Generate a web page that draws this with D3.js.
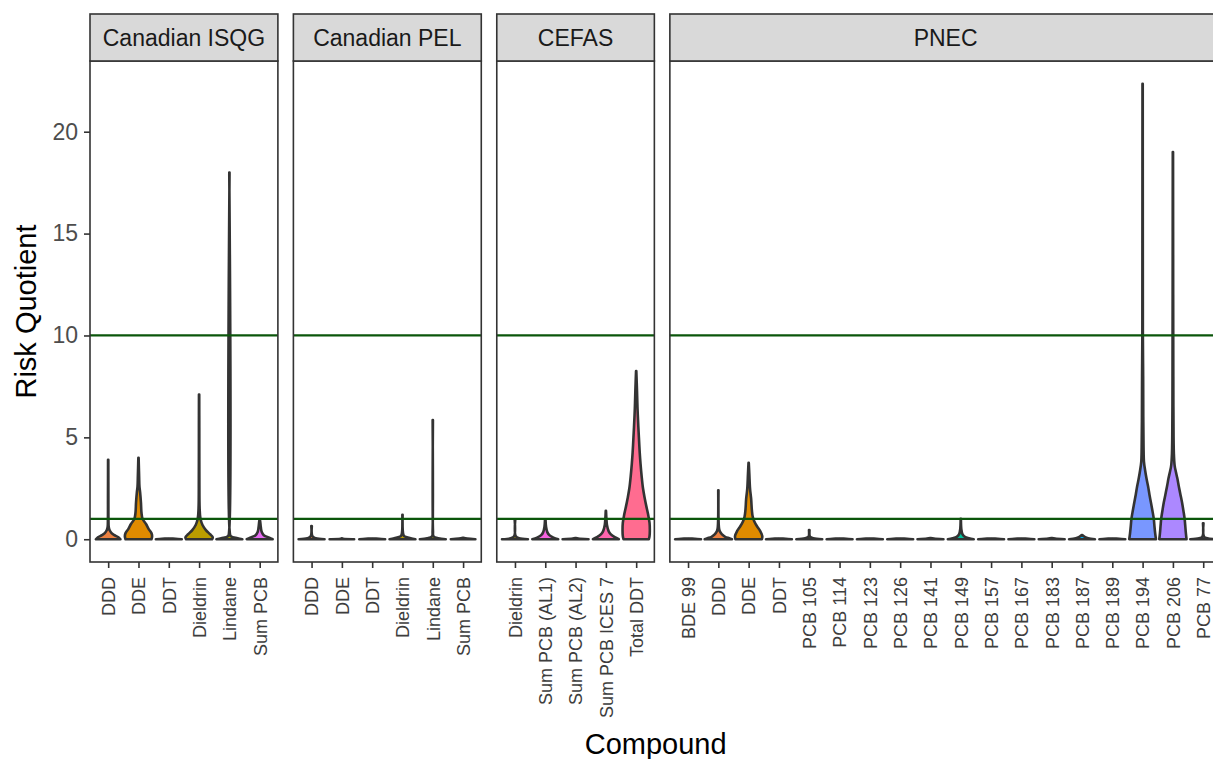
<!DOCTYPE html>
<html>
<head>
<meta charset="utf-8">
<script src="https://cdn.jsdelivr.net/npm/d3@7"></script>
<style>
  body { margin: 0; background: #ffffff; }
  svg text { font-family: "Liberation Sans", Arial, sans-serif; }
</style>
</head>
<body>
<div id="chart"></div>
<script>
// facets and the compounds shown in each one
var facets = ["Canadian ISQG", "Canadian PEL", "CEFAS", "PNEC"];
var isqgCompounds = ["DDD", "DDE", "DDT", "Dieldrin", "Lindane", "Sum PCB"];
var pelCompounds = ["DDD", "DDE", "DDT", "Dieldrin", "Lindane", "Sum PCB"];
var cefasCompounds = ["Dieldrin", "Sum PCB (AL1)", "Sum PCB (AL2)", "Sum PCB ICES 7", "Total DDT"];
var pnecCompounds = ["BDE 99", "DDD", "DDE", "DDT", "PCB 105", "PCB 114", "PCB 123", "PCB 126",
  "PCB 141", "PCB 149", "PCB 157", "PCB 167", "PCB 183", "PCB 187", "PCB 189", "PCB 194", "PCB 206", "PCB 77"];

// violin outlines: [risk quotient, relative half width]
var flat = [[0, 0.95], [0.02, 0.5], [0.04, 0]];
var isqgViolins = [
  [[0, 0.9], [0.1, 0.75], [0.2, 0.45], [0.3, 0.25], [0.45, 0.1], [0.6, 0.04], [1, 0.02], [2, 0.015], [3.9, 0.01]],
  [[0, 0.95], [0.15, 1], [0.3, 0.95], [0.5, 0.75], [0.75, 0.55], [1.0, 0.3], [1.3, 0.22], [1.8, 0.18], [2.3, 0.12], [2.6, 0.07], [3, 0.05], [3.5, 0.03], [4.0, 0.01]],
  flat,
  [[0, 0.95], [0.1, 1], [0.25, 0.8], [0.45, 0.5], [0.7, 0.25], [1.0, 0.1], [1.5, 0.04], [3, 0.02], [5.5, 0.015], [7.1, 0.01]],
  [[0, 0.95], [0.05, 0.6], [0.15, 0.1], [0.4, 0.02], [18.0, 0.01]],
  [[0, 0.95], [0.08, 0.7], [0.2, 0.3], [0.35, 0.15], [0.6, 0.08], [0.9, 0.03], [0.95, 0.01]]
];
var pelViolins = [
  [[0, 0.95], [0.05, 0.3], [0.15, 0.06], [0.65, 0.02]],
  [[0, 0.9], [0.02, 0.1], [0.05, 0.01]],
  flat,
  [[0, 0.95], [0.05, 0.6], [0.15, 0.12], [0.3, 0.04], [1.2, 0.01]],
  [[0, 0.95], [0.05, 0.4], [0.15, 0.05], [0.4, 0.015], [5.85, 0.01]],
  [[0, 0.9], [0.03, 0.3], [0.07, 0.01]]
];
var cefasViolins = [
  [[0, 0.95], [0.05, 0.3], [0.15, 0.06], [0.95, 0.02]],
  [[0, 0.95], [0.08, 0.6], [0.2, 0.3], [0.35, 0.15], [0.6, 0.06], [0.95, 0.02]],
  [[0, 0.95], [0.03, 0.2], [0.06, 0.01]],
  [[0, 0.95], [0.1, 0.65], [0.25, 0.35], [0.4, 0.2], [0.7, 0.08], [1.0, 0.04], [1.4, 0.01]],
  [[0, 0.93], [0.15, 0.98], [0.4, 1], [0.8, 0.98], [1.2, 0.88], [1.6, 0.75], [2, 0.63], [2.5, 0.5], [3.1, 0.4], [3.7, 0.32], [4.25, 0.26], [5, 0.2], [5.5, 0.16], [6.4, 0.1], [7.3, 0.06], [8.25, 0.01]]
];
var pnecViolins = [
  flat,
  [[0, 1], [0.05, 0.8], [0.12, 0.5], [0.25, 0.25], [0.4, 0.1], [0.6, 0.04], [2.4, 0.01]],
  [[0, 0.97], [0.15, 1], [0.4, 0.85], [0.65, 0.6], [0.9, 0.4], [1.1, 0.3], [1.4, 0.24], [2.0, 0.18], [2.5, 0.1], [3.2, 0.05], [3.75, 0.01]],
  flat,
  [[0, 0.95], [0.05, 0.3], [0.12, 0.06], [0.45, 0.02]],
  flat,
  flat,
  flat,
  [[0, 0.95], [0.03, 0.25], [0.06, 0.01]],
  [[0, 0.95], [0.05, 0.6], [0.12, 0.3], [0.25, 0.12], [0.5, 0.04], [1.0, 0.01]],
  flat,
  flat,
  [[0, 0.95], [0.03, 0.25], [0.06, 0.01]],
  [[0, 0.95], [0.05, 0.45], [0.12, 0.2], [0.2, 0.02]],
  flat,
  [[0, 0.98], [0.3, 0.92], [0.7, 0.86], [1.0, 0.82], [1.4, 0.72], [1.8, 0.61], [2.2, 0.5], [2.6, 0.4], [3.0, 0.28], [3.4, 0.18], [3.8, 0.1], [4.5, 0.07], [6, 0.05], [8, 0.04], [10, 0.02], [15, 0.015], [22.35, 0.01]],
  [[0, 1], [0.3, 0.95], [0.7, 0.9], [1.0, 0.86], [1.4, 0.77], [1.8, 0.67], [2.2, 0.55], [2.6, 0.43], [3.0, 0.32], [3.3, 0.22], [3.6, 0.13], [4.2, 0.07], [6, 0.04], [8, 0.03], [12, 0.02], [19, 0.01]],
  [[0, 0.95], [0.05, 0.3], [0.12, 0.06], [0.78, 0.02]]
];

var yTicks = [0, 5, 10, 15, 20];
var refLines = [1, 10];

var panels = [
  {name: facets[0], cats: isqgCompounds, violins: isqgViolins},
  {name: facets[1], cats: pelCompounds, violins: pelViolins},
  {name: facets[2], cats: cefasCompounds, violins: cefasViolins},
  {name: facets[3], cats: pnecCompounds, violins: pnecViolins}
];

// R style hcl() colour (polar CIE-Luv), as ggplot's hue palette uses
function hclLuv(h, c, l) {
  var rad = h * Math.PI / 180;
  var U = c * Math.cos(rad), V = c * Math.sin(rad);
  var Y = l > 8 ? Math.pow((l + 16) / 116, 3) : l / 903.3;
  var Xn = 0.95047, Yn = 1, Zn = 1.08883;
  var un = 4 * Xn / (Xn + 15 * Yn + 3 * Zn), vn = 9 * Yn / (Xn + 15 * Yn + 3 * Zn);
  var u = U / (13 * l) + un, v = V / (13 * l) + vn;
  var X = 9 * Y * u / (4 * v);
  var Z = -X / 3 - 5 * Y + 3 * Y / v;
  var lin = [
    3.240479 * X - 1.537150 * Y - 0.498535 * Z,
    -0.969256 * X + 1.875992 * Y + 0.041556 * Z,
    0.055648 * X - 0.204043 * Y + 1.057311 * Z
  ];
  var rgb = lin.map(function(t) {
    var s = t <= 0.0031308 ? 12.92 * t : 1.055 * Math.pow(t, 1 / 2.4) - 0.055;
    return Math.round(255 * Math.max(0, Math.min(1, s)));
  });
  return d3.rgb(rgb[0], rgb[1], rgb[2]).formatHex();
}

// one hue per compound
var allCompounds = Array.from(new Set([].concat(isqgCompounds, pelCompounds, cefasCompounds, pnecCompounds))).sort();
var color = d3.scaleOrdinal()
  .domain(allCompounds)
  .range(allCompounds.map(function(d, i) {
    return hclLuv(15 + i * 360 / allCompounds.length, 100, 65);
  }));

var width = 1213, height = 759;
var plotLeft = 90, plotRight = 1221.4, plotTop = 61, plotBottom = 562, stripH = 47, gap = 15.5;

var svg = d3.select("#chart").append("svg")
  .attr("width", width).attr("height", height);

var y = d3.scaleLinear().domain([-1.117, 23.47]).range([plotBottom, plotTop]);

var units = d3.sum(panels, function(p) { return p.cats.length + 0.2; });
var unitW = (plotRight - plotLeft - gap * (panels.length - 1)) / units;

var x0 = plotLeft;
panels.forEach(function(p, pi) {
  var w = (p.cats.length + 0.2) * unitW;
  var x = d3.scalePoint().domain(p.cats).range([x0, x0 + w]).padding(0.6);
  var halfMax = x.step() * 0.45;

  var g = svg.append("g");

  g.append("rect")
    .attr("x", x0).attr("y", plotTop).attr("width", w).attr("height", plotBottom - plotTop)
    .attr("fill", "#ffffff");

  var area = d3.area()
    .curve(d3.curveCatmullRom.alpha(0.5))
    .y(function(d) { return y(d[0]); });

  p.cats.forEach(function(c, ci) {
    var cx = x(c);
    area.x0(function(d) { return cx - d[1] * halfMax; })
        .x1(function(d) { return cx + d[1] * halfMax; });
    g.append("path")
      .attr("d", area(p.violins[ci]))
      .attr("fill", color(c))
      .attr("stroke", "#333333")
      .attr("stroke-width", 2.6)
      .attr("stroke-linejoin", "round");
  });

  refLines.forEach(function(v) {
    g.append("line")
      .attr("x1", x0).attr("x2", x0 + w)
      .attr("y1", y(v)).attr("y2", y(v))
      .attr("stroke", "#0b560b").attr("stroke-width", 2.2);
  });

  g.append("rect")
    .attr("x", x0).attr("y", plotTop).attr("width", w).attr("height", plotBottom - plotTop)
    .attr("fill", "none").attr("stroke", "#333333").attr("stroke-width", 1.6);

  // strip
  g.append("rect")
    .attr("x", x0).attr("y", plotTop - stripH).attr("width", w).attr("height", stripH)
    .attr("fill", "#d9d9d9").attr("stroke", "#333333").attr("stroke-width", 1.6);
  g.append("text")
    .attr("x", x0 + w / 2).attr("y", plotTop - stripH / 2)
    .attr("dy", "0.35em")
    .attr("text-anchor", "middle")
    .attr("font-size", 23)
    .attr("fill", "#1a1a1a")
    .text(p.name);

  // x axis
  var xAxis = g.append("g")
    .attr("transform", "translate(0," + plotBottom + ")")
    .call(d3.axisBottom(x).tickSizeOuter(0).tickSize(6).tickPadding(4));
  xAxis.select(".domain").remove();
  xAxis.selectAll(".tick line").attr("stroke", "#333333").attr("stroke-width", 1.6);
  xAxis.selectAll(".tick text")
    .attr("font-size", 18)
    .attr("fill", "#3d3d3d")
    .attr("transform", "rotate(-90)")
    .attr("text-anchor", "end")
    .attr("x", -15).attr("y", 0).attr("dy", "0.35em");

  if (pi === 0) {
    var yAxis = g.append("g")
      .attr("transform", "translate(" + x0 + ",0)")
      .call(d3.axisLeft(y).tickValues(yTicks).tickSize(6).tickPadding(6));
    yAxis.select(".domain").remove();
    yAxis.selectAll(".tick line").attr("stroke", "#333333").attr("stroke-width", 1.6);
    yAxis.selectAll(".tick text").attr("font-size", 23).attr("fill", "#4d4d4d");
  }

  x0 += w + gap;
});

svg.append("text")
  .attr("x", (plotLeft + plotRight) / 2).attr("y", 754)
  .attr("text-anchor", "middle")
  .attr("font-size", 29)
  .attr("fill", "#000000")
  .text("Compound");

svg.append("text")
  .attr("transform", "translate(36," + (plotTop + plotBottom) / 2 + ") rotate(-90)")
  .attr("text-anchor", "middle")
  .attr("font-size", 29)
  .attr("fill", "#000000")
  .text("Risk Quotient");
</script>
</body>
</html>
